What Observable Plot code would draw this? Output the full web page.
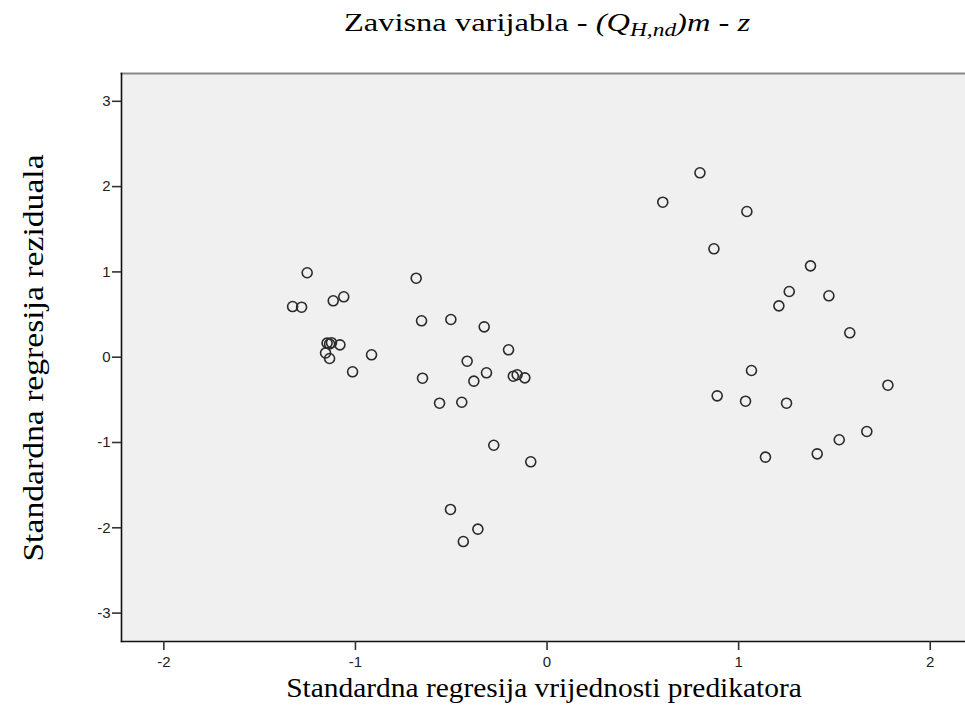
<!DOCTYPE html>
<html><head><meta charset="utf-8">
<script src="https://cdn.jsdelivr.net/npm/d3@7"></script>
<script src="https://cdn.jsdelivr.net/npm/@observablehq/plot@0.6"></script>
<style>
body{margin:0;background:#fff;}
#wrap{position:relative;width:965px;height:723px;overflow:hidden;}
#wrap svg text{font-size:15px;font-family:"Liberation Sans",Arial,sans-serif;}
.t{position:absolute;font-family:"Liberation Serif","Times New Roman",serif;color:#000;white-space:nowrap;font-size:26px;line-height:1;}
.t sub{font-size:0.72em;vertical-align:-0.28em;}
</style></head><body><div id="wrap"></div>
<script>
const predicted = [-1.252,-1.328,-1.281,-1.116,-1.061,-1.148,-1.125,-1.135,-1.081,-1.156,-1.135,-0.916,-1.015,
  -0.683,-0.655,-0.502,-0.328,-0.201,-0.417,-0.316,-0.382,-0.650,-0.176,-0.156,-0.116,-0.561,-0.445,-0.278,-0.085,
  -0.504,-0.361,-0.437,
  0.798,0.604,1.043,0.871,1.375,1.264,1.471,1.210,1.580,
  1.067,1.779,0.888,1.036,1.250,1.669,1.525,1.410,1.140];
const residual = [0.99,0.594,0.586,0.661,0.708,0.165,0.17,0.155,0.145,0.05,-0.015,0.028,-0.171,
  0.926,0.427,0.442,0.356,0.087,-0.047,-0.183,-0.281,-0.246,-0.223,-0.206,-0.242,-0.539,-0.528,-1.032,-1.226,
  -1.785,-2.016,-2.161,
  2.162,1.817,1.708,1.271,1.071,0.770,0.720,0.602,0.286,
  -0.156,-0.328,-0.453,-0.516,-0.539,-0.871,-0.968,-1.133,-1.172];
const xTicks = [-2,-1,0,1,2];
const yTicks = [-3,-2,-1,0,1,2,3];
const xDomain = [-2.221, 2.184];
const yDomain = [-3.333, 3.326];
const titleMain = "Zavisna varijabla - ";
const titleItalic = "(Q<sub>H,nd</sub>)m - z";
const xLabel = "Standardna regresija vrijednosti predikatora";
const yLabel = "Standardna regresija reziduala";

const data = predicted.map((x,i)=>({x, y: residual[i]}));
const tickFont = {fontSize: 15, tickFormat: d => String(d)};

const chart = Plot.plot({
  width: 965, height: 723,
  marginTop: 73, marginBottom: 82, marginLeft: 121, marginRight: 0,
  style: {background: "#fff", color: "#222", overflow: "visible"},
  x: {domain: xDomain},
  y: {domain: yDomain},
  marks: [
    Plot.frame({fill: "#f0f0f0", stroke: null}),
    Plot.frame({anchor: "top", stroke: "#888", strokeWidth: 2}),
    Plot.frame({anchor: "left", stroke: "#111", strokeWidth: 1.6}),
    Plot.frame({anchor: "bottom", stroke: "#111", strokeWidth: 1.6}),
    Plot.axisY(yTicks, {tickSize: 9, tickPadding: 2, label: null, stroke: "#333", strokeWidth: 1.6, ...tickFont}),
    Plot.axisX(xTicks, {tickSize: 9, tickPadding: 6, label: null, stroke: "#333", strokeWidth: 1.6, ...tickFont}),
    Plot.dot(data, {x: "x", y: "y", r: 5, stroke: "#2a2a2a", strokeWidth: 1.6, fill: "none"})
  ]
});
const wrap = document.getElementById("wrap");
wrap.appendChild(chart);

const t = document.createElement("div");
t.className = "t";
t.style.left = "547px"; t.style.top = "10px"; t.style.transform = "translateX(-50%) scaleX(1.25)";
t.innerHTML = titleMain + "<i>" + titleItalic + "</i>";
wrap.appendChild(t);

const xl = document.createElement("div");
xl.className = "t";
xl.style.fontSize = "27px";
xl.style.left = "544px"; xl.style.top = "675px"; xl.style.transform = "translateX(-50%) scaleX(1.09)";
xl.textContent = xLabel;
wrap.appendChild(xl);

const yl = document.createElement("div");
yl.className = "t";
yl.style.fontSize = "29px";
yl.style.left = "33px"; yl.style.top = "358px"; yl.style.transform = "translate(-50%,-50%) rotate(-90deg) scaleX(1.16)";
yl.textContent = yLabel;
wrap.appendChild(yl);
</script>
</body></html>
